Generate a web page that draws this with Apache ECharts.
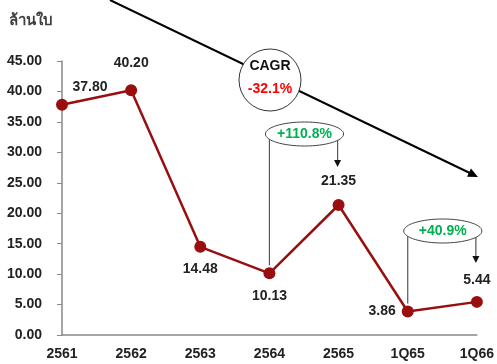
<!DOCTYPE html>
<html>
<head>
<meta charset="utf-8">
<script src="https://cdn.jsdelivr.net/npm/echarts@6/dist/echarts.min.js"></script>
<style>
  html, body { margin: 0; padding: 0; background: #fff; }
  #chart { width: 497px; height: 364px; }
</style>
</head>
<body>
<div id="chart"></div>
<script>
// data
const categories = ['2561', '2562', '2563', '2564', '2565', '1Q65', '1Q66'];
const values = [37.80, 40.20, 14.48, 10.13, 21.35, 3.86, 5.44];
const unitName = 'ล้านใบ';
const cagrLabel = 'CAGR';
const cagrValue = '-32.1%';
// growth brackets: [from category, to category, text]
const growthFrom = ['2564', '1Q65'];
const growthTo = ['2565', '1Q66'];
const growthText = ['+110.8%', '+40.9%'];

const FONT = '"Liberation Sans", Arial, sans-serif';
const RED = '#990f0f';
const GREEN = '#00b050';

// where each value label sits around its point
const labelPos = [
  { position: 'top', offset: [28, 0] },
  { position: 'top', offset: [0, -9] },
  { position: 'bottom', offset: [0, 4] },
  { position: 'bottom', offset: [0, 5] },
  { position: 'top', offset: [0, -6] },
  { position: 'left', offset: [-1, 0] },
  { position: 'top', offset: [0, -4] }
];

const chart = echarts.init(document.getElementById('chart'));

chart.setOption({
  animation: false,
  title: {
    text: unitName,
    left: 4,
    top: 8,
    textStyle: { fontFamily: FONT, fontSize: 15, fontWeight: 'bold', color: '#404040' }
  },
  grid: { left: 62, right: 18, top: 61, bottom: 29 },
  xAxis: {
    type: 'category',
    data: categories,
    boundaryGap: false,
    axisLine: { lineStyle: { color: '#888', width: 1.5 } },
    axisTick: { show: false },
    axisLabel: { fontFamily: FONT, fontSize: 14, fontWeight: 'bold', color: '#222', margin: 12 }
  },
  yAxis: {
    type: 'value',
    min: 0,
    max: 45,
    interval: 5,
    axisLine: { show: true, lineStyle: { color: '#888', width: 1.5 } },
    axisTick: { show: true, length: 5, lineStyle: { color: '#888' } },
    splitLine: { show: false },
    axisLabel: {
      fontFamily: FONT, fontSize: 14, fontWeight: 'bold', color: '#222', margin: 20,
      formatter: v => v.toFixed(2)
    }
  },
  series: [{
    type: 'line',
    data: values.map((v, i) => ({ value: v, label: labelPos[i] })),
    symbol: 'circle',
    symbolSize: 12,
    lineStyle: { color: RED, width: 2.5 },
    itemStyle: { color: RED },
    label: {
      show: true,
      fontFamily: FONT, fontSize: 14, fontWeight: 'bold', color: '#222',
      formatter: p => p.value.toFixed(2)
    }
  }]
});

function arrowHead(x1, y1, x2, y2, len, half) {
  const dx = x2 - x1, dy = y2 - y1;
  const d = Math.sqrt(dx * dx + dy * dy);
  const ux = dx / d, uy = dy / d;
  const bx = x2 - ux * len, by = y2 - uy * len;
  return [[x2, y2], [bx - uy * half, by + ux * half], [bx + uy * half, by - ux * half]];
}

function buildGraphics() {
  const px = (cat, val) => chart.convertToPixel({ gridIndex: 0 }, [cat, val]);
  const els = [];

  // big CAGR arrow
  const a0 = [110, 0], a1 = [478, 177];
  els.push({ type: 'line', shape: { x1: a0[0], y1: a0[1], x2: a1[0] - 4, y2: a1[1] - 2 },
    style: { stroke: '#000', lineWidth: 2 }, z: 10 });
  els.push({ type: 'polygon', shape: { points: arrowHead(a0[0], a0[1], a1[0], a1[1], 10, 4.5) },
    style: { fill: '#000' }, z: 10 });
  els.push({ type: 'circle', shape: { cx: 270, cy: 80, r: 31 },
    style: { fill: '#fff', stroke: '#333', lineWidth: 1 }, z: 11 });
  els.push({ type: 'text', x: 270, y: 66, z: 12,
    style: { text: cagrLabel, font: 'bold 14px ' + FONT, fill: '#111', align: 'center', verticalAlign: 'middle' } });
  els.push({ type: 'text', x: 270, y: 89, z: 12,
    style: { text: cagrValue, font: 'bold 14px ' + FONT, fill: '#ff0000', align: 'center', verticalAlign: 'middle' } });

  // growth brackets
  const bracketY = [134, 231];
  const tipY = [167, 263];
  for (let i = 0; i < growthText.length; i++) {
    const iFrom = categories.indexOf(growthFrom[i]);
    const pFrom = px(growthFrom[i], values[iFrom]);
    const pTo = px(growthTo[i], values[categories.indexOf(growthTo[i])]);
    const xl = pFrom[0], xr = pTo[0] - 1;
    const cy = bracketY[i];
    const cx = (xl + xr) / 2;
    els.push({ type: 'line', shape: { x1: xl, y1: cy, x2: xl, y2: pFrom[1] - 8 },
      style: { stroke: '#555', lineWidth: 1.2 }, z: 10 });
    els.push({ type: 'line', shape: { x1: xr, y1: cy, x2: xr, y2: tipY[i] - 5 },
      style: { stroke: '#555', lineWidth: 1.2 }, z: 10 });
    els.push({ type: 'polygon', shape: { points: arrowHead(xr, cy, xr, tipY[i], 7, 3.5) },
      style: { fill: '#111' }, z: 10 });
    els.push({ type: 'ellipse', shape: { cx: cx + 1, cy: cy, rx: (xr - xl) / 2 + 5, ry: 12 },
      style: { fill: '#fff', stroke: '#444', lineWidth: 1 }, z: 11 });
    els.push({ type: 'text', x: cx + 1, y: cy, z: 12,
      style: { text: growthText[i], font: 'bold 14px ' + FONT, fill: GREEN, align: 'center', verticalAlign: 'middle' } });
  }
  return els;
}

chart.setOption({ graphic: buildGraphics() });
</script>
</body>
</html>
